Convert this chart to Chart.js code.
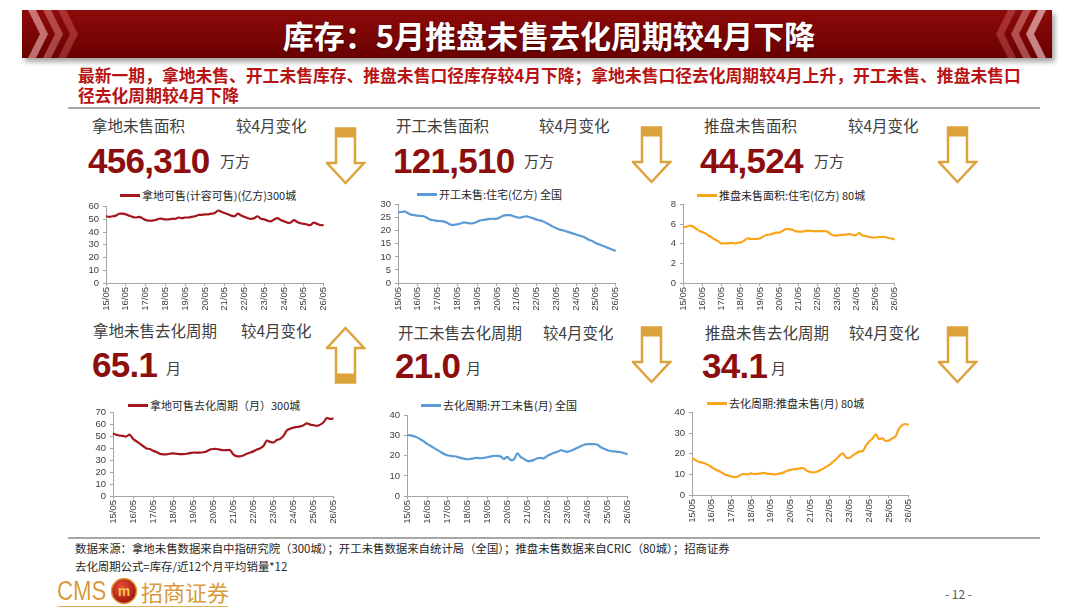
<!DOCTYPE html>
<html>
<head>
<meta charset="utf-8">
<script src="https://cdn.jsdelivr.net/npm/chart.js@4.4.1/dist/chart.umd.min.js"></script>
<style>
body{margin:0;background:#fff;}
#page{position:relative;width:1080px;height:608px;overflow:hidden;font-family:"Noto Sans CJK SC","Noto Sans",sans-serif;}
.t{position:absolute;white-space:nowrap;line-height:1;}
.lbl{font-size:15.5px;color:#404040;}
.num{font-family:"Liberation Sans",Arial,sans-serif;font-weight:bold;color:#8C0E0E;font-size:35px;letter-spacing:-0.7px;}
.unit{font-size:15px;color:#404040;}
.leg{font-size:11px;color:#262626;}
.legline{position:absolute;height:2.5px;}
.box{position:absolute;}
.sub{position:absolute;left:78px;font-size:16.8px;font-weight:bold;color:#B81414;white-space:nowrap;line-height:1;}
.hr{position:absolute;left:68px;width:972px;height:2px;background:#A6A6A6;}
.foot{position:absolute;left:75px;font-size:11.4px;color:#262626;white-space:nowrap;line-height:1;}
</style>
</head>
<body>
<div id="page">
  <svg class="box" style="left:0;top:0" width="1080" height="70">
    <defs>
      <linearGradient id="bg" x1="0" y1="0" x2="0" y2="1">
        <stop offset="0" stop-color="#8E0B0B"/>
        <stop offset="1" stop-color="#6A0000"/>
      </linearGradient>
      <filter id="sh" x="-5%" y="-30%" width="110%" height="160%"><feGaussianBlur stdDeviation="2.5"/></filter>
    </defs>
    <rect x="25" y="14" width="1030" height="48" fill="rgba(0,0,0,0.35)" filter="url(#sh)"/>
    <rect x="22" y="10" width="1030" height="48" fill="url(#bg)"/>
    <polygon points="28,10 36,10 48,34 36,58 28,58 40,34" fill="rgba(255,200,200,0.55)"/>
    <polygon points="43,10 51,10 63,34 51,58 43,58 55,34" fill="rgba(255,170,170,0.4)"/>
    <polygon points="58,10 66,10 78,34 66,58 58,58 70,34" fill="rgba(255,150,150,0.28)"/>
    <polygon points="1046,10 1038,10 1026,34 1038,58 1046,58 1034,34" fill="rgba(255,220,220,0.6)"/>
    <polygon points="1031,10 1023,10 1011,34 1023,58 1031,58 1019,34" fill="rgba(255,180,180,0.42)"/>
    <polygon points="1016,10 1008,10 996,34 1008,58 1016,58 1004,34" fill="rgba(255,150,150,0.28)"/>
  </svg>
  <div class="t" style="left:0;width:1080px;text-align:center;top:19px;font-size:31px;font-weight:bold;color:#fff;text-shadow:1px 1px 2px rgba(0,0,0,0.4);padding-left:18px;box-sizing:border-box;">库存：5月推盘未售去化周期较4月下降</div>

  <div class="sub" style="top:67px;">最新一期，拿地未售、开工未售库存、推盘未售口径库存较4月下降；拿地未售口径去化周期较4月上升，开工未售、推盘未售口</div>
  <div class="sub" style="top:87px;">径去化周期较4月下降</div>
  <div class="hr" style="top:107px;"></div>

  <!-- top row headings -->
  <div class="t lbl" style="left:92px;top:118px;">拿地未售面积</div>
  <div class="t lbl" style="left:236px;top:118px;">较4月变化</div>
  <div class="t num" style="left:88px;top:143px;">456,310</div>
  <div class="t unit" style="left:220px;top:153px;">万方</div>

  <div class="t lbl" style="left:396px;top:118px;">开工未售面积</div>
  <div class="t lbl" style="left:539px;top:118px;">较4月变化</div>
  <div class="t num" style="left:393px;top:143px;">121,510</div>
  <div class="t unit" style="left:524px;top:153px;">万方</div>

  <div class="t lbl" style="left:704px;top:118px;">推盘未售面积</div>
  <div class="t lbl" style="left:848px;top:118px;">较4月变化</div>
  <div class="t num" style="left:700px;top:143px;">44,524</div>
  <div class="t unit" style="left:814px;top:153px;">万方</div>

  <!-- bottom row headings -->
  <div class="t lbl" style="left:93px;top:323px;">拿地未售去化周期</div>
  <div class="t lbl" style="left:241px;top:323px;">较4月变化</div>
  <div class="t num" style="left:92px;top:347px;">65.1</div>
  <div class="t unit" style="left:166px;top:360px;">月</div>

  <div class="t lbl" style="left:398px;top:325px;">开工未售去化周期</div>
  <div class="t lbl" style="left:543px;top:325px;">较4月变化</div>
  <div class="t num" style="left:395px;top:348px;">21.0</div>
  <div class="t unit" style="left:466px;top:360px;">月</div>

  <div class="t lbl" style="left:705px;top:325px;">推盘未售去化周期</div>
  <div class="t lbl" style="left:849px;top:325px;">较4月变化</div>
  <div class="t num" style="left:702px;top:348px;">34.1</div>
  <div class="t unit" style="left:771px;top:360px;">月</div>

  <!-- arrows -->
  <svg class="box" style="left:326px;top:127px" width="40" height="58"><rect x="10" y="1.5" width="19" height="9" fill="#DCA33C"/><polygon points="10,1.5 29,1.5 29,36 38,36 19.5,56 1,36 10,36" fill="none" stroke="#DCA33C" stroke-width="2.5"/></svg>
  <svg class="box" style="left:632px;top:126px" width="40" height="58"><rect x="10" y="1.5" width="19" height="9" fill="#DCA33C"/><polygon points="10,1.5 29,1.5 29,36 38,36 19.5,56 1,36 10,36" fill="none" stroke="#DCA33C" stroke-width="2.5"/></svg>
  <svg class="box" style="left:938px;top:126px" width="40" height="58"><rect x="10" y="1.5" width="19" height="9" fill="#DCA33C"/><polygon points="10,1.5 29,1.5 29,36 38,36 19.5,56 1,36 10,36" fill="none" stroke="#DCA33C" stroke-width="2.5"/></svg>
  <svg class="box" style="left:326px;top:326px" width="40" height="58"><rect x="10" y="47.5" width="19" height="9" fill="#DCA33C"/><polygon points="10,56.5 29,56.5 29,22 38,22 19.5,2 1,22 10,22" fill="none" stroke="#DCA33C" stroke-width="2.5"/></svg>
  <svg class="box" style="left:632px;top:326px" width="40" height="58"><rect x="10" y="1.5" width="19" height="9" fill="#DCA33C"/><polygon points="10,1.5 29,1.5 29,36 38,36 19.5,56 1,36 10,36" fill="none" stroke="#DCA33C" stroke-width="2.5"/></svg>
  <svg class="box" style="left:938px;top:326px" width="40" height="58"><rect x="10" y="1.5" width="19" height="9" fill="#DCA33C"/><polygon points="10,1.5 29,1.5 29,36 38,36 19.5,56 1,36 10,36" fill="none" stroke="#DCA33C" stroke-width="2.5"/></svg>

  <!-- legends -->
  <div class="legline" style="left:120px;top:194px;width:20px;background:#A3161C;"></div>
  <div class="t leg" style="left:142px;top:190px;">拿地可售(计容可售)(亿方)300城</div>
  <div class="legline" style="left:417px;top:193px;width:20px;background:#5B9BD5;"></div>
  <div class="t leg" style="left:439px;top:189px;">开工未售:住宅(亿方) 全国</div>
  <div class="legline" style="left:697px;top:194px;width:20px;background:#F8A51B;"></div>
  <div class="t leg" style="left:719px;top:190px;">推盘未售面积:住宅(亿方) 80城</div>
  <div class="legline" style="left:128px;top:404px;width:20px;background:#A3161C;"></div>
  <div class="t leg" style="left:150px;top:400px;">拿地可售去化周期（月）300城</div>
  <div class="legline" style="left:421px;top:404px;width:20px;background:#5B9BD5;"></div>
  <div class="t leg" style="left:443px;top:400px;">去化周期:开工未售(月) 全国</div>
  <div class="legline" style="left:707px;top:402px;width:20px;background:#F8A51B;"></div>
  <div class="t leg" style="left:729px;top:398px;">去化周期:推盘未售(月) 80城</div>

  <div class="box" id="b1"><canvas id="c1"></canvas></div>
  <div class="box" id="b2"><canvas id="c2"></canvas></div>
  <div class="box" id="b3"><canvas id="c3"></canvas></div>
  <div class="box" id="b4"><canvas id="c4"></canvas></div>
  <div class="box" id="b5"><canvas id="c5"></canvas></div>
  <div class="box" id="b6"><canvas id="c6"></canvas></div>

  <div class="hr" style="top:537px;"></div>
  <div class="foot" style="top:543px;">数据来源：拿地未售数据来自中指研究院（300城）；开工未售数据来自统计局（全国）；推盘未售数据来自CRIC（80城）；招商证券</div>
  <div class="foot" style="top:561px;">去化周期公式=库存/近12个月平均销量*12</div>

  <div class="t" style="left:57px;top:578px;font-family:'Liberation Sans',sans-serif;font-size:27px;color:#D89A3A;transform:scaleX(0.82);transform-origin:0 0;">CMS</div>
  <svg class="box" style="left:110px;top:577px" width="28" height="28"><defs><radialGradient id="em" cx="0.4" cy="0.35" r="0.7"><stop offset="0" stop-color="#E8503A"/><stop offset="1" stop-color="#9A1208"/></radialGradient></defs><circle cx="14" cy="14" r="12.5" fill="url(#em)" stroke="#E0A040" stroke-width="1.5"/><text x="14" y="19" text-anchor="middle" font-size="14" font-weight="bold" fill="#F5C34A" font-family="Liberation Sans">m</text></svg>
  <div class="t" style="left:141px;top:580px;font-size:22px;color:#D89A3A;">招商证券</div>
  <div style="position:absolute;left:58px;top:606px;width:170px;height:1px;background:#E0B060;"></div>
  <div class="t" style="left:945px;top:588px;font-size:12px;color:#595959;">- 12 -</div>
</div>

<script>
// 月度序列（双月取点），2015/05 - 2026/05
const months = [
  '15/05','15/07','15/09','15/11','16/01','16/03',
  '16/05','16/07','16/09','16/11','17/01','17/03',
  '17/05','17/07','17/09','17/11','18/01','18/03',
  '18/05','18/07','18/09','18/11','19/01','19/03',
  '19/05','19/07','19/09','19/11','20/01','20/03',
  '20/05','20/07','20/09','20/11','21/01','21/03',
  '21/05','21/07','21/09','21/11','22/01','22/03',
  '22/05','22/07','22/09','22/11','23/01','23/03',
  '23/05','23/07','23/09','23/11','24/01','24/03',
  '24/05','24/07','24/09','24/11','25/01','25/03',
  '25/05','25/07','25/09','25/11','26/01','26/03',
  '26/05'
];
const tickLabels = ['15/05','16/05','17/05','18/05','19/05','20/05','21/05','22/05','23/05','24/05','25/05','26/05'];

// 拿地可售(计容可售)(亿方)300城
const landStock = [
  52.5, 52.0, 52.5, 53.0, 54.5, 54.5,
  54.0, 53.0, 52.0, 51.5, 52.0, 51.0,
  49.5, 49.0, 49.0, 49.5, 50.5, 50.5,
  50.0, 50.0, 50.5, 50.5, 51.5, 51.0,
  51.5, 51.5, 52.0, 52.5, 53.5, 53.5,
  54.0, 54.0, 54.5, 55.0, 57.0, 56.0,
  55.0, 54.0, 53.0, 52.5, 54.5, 53.0,
  52.0, 51.0, 50.5, 51.0, 52.5, 50.5,
  50.0, 49.0, 48.5, 50.0, 51.0, 49.5,
  48.5, 47.5, 47.5, 49.5, 48.0, 47.0,
  46.5, 46.0, 45.5, 47.5, 46.5, 45.5,
  45.5
];
// 开工未售:住宅(亿方) 全国
const startStock = [
  27.0, 27.2, 27.4, 26.8, 26.2, 26.0,
  25.8, 25.7, 25.5, 24.8, 24.2, 24.0,
  23.8, 23.7, 23.5, 23.0, 22.3, 22.3,
  22.5, 22.8, 23.2, 23.0, 22.8, 23.0,
  23.5, 24.0, 24.2, 24.4, 24.6, 24.6,
  24.6, 25.2, 25.8, 26.0, 26.0, 25.6,
  25.2, 25.0, 25.4, 25.5, 25.2, 24.8,
  24.3, 24.0, 23.6, 23.0, 22.3, 21.6,
  21.0, 20.5, 20.2, 19.8, 19.4, 19.0,
  18.6, 18.2, 17.8, 17.2, 16.5, 16.0,
  15.3, 14.8, 14.3, 13.8, 13.3, 12.8,
  12.2
];
// 推盘未售面积:住宅(亿方) 80城
const launchStock = [
  5.70, 5.75, 5.85, 5.80, 5.55, 5.35,
  5.20, 5.05, 4.85, 4.65, 4.45, 4.25,
  4.05, 4.05, 4.05, 4.10, 4.05, 4.10,
  4.15, 4.30, 4.55, 4.50, 4.50, 4.50,
  4.55, 4.75, 4.90, 4.95, 5.05, 5.15,
  5.15, 5.30, 5.50, 5.50, 5.45, 5.30,
  5.25, 5.25, 5.30, 5.35, 5.30, 5.30,
  5.30, 5.30, 5.30, 5.25, 5.00, 4.85,
  4.85, 4.90, 4.95, 4.95, 5.00, 4.90,
  4.90, 5.10, 4.85, 4.80, 4.70, 4.65,
  4.65, 4.70, 4.70, 4.70, 4.60, 4.55,
  4.45
];
// 拿地可售去化周期（月）300城
const landCycle = [
  52.5, 51.5, 50.8, 50.5, 50.0, 51.5,
  48.0, 46.0, 44.0, 42.0, 40.0, 39.5,
  38.0, 37.0, 35.5, 35.0, 35.0, 35.5,
  35.8, 35.5, 35.2, 35.2, 35.5, 36.0,
  36.5, 36.5, 36.5, 36.8, 37.5, 39.0,
  39.5, 39.5, 39.0, 38.5, 38.5, 38.5,
  35.0, 33.5, 33.3, 34.0, 35.5, 36.5,
  37.5, 39.0, 40.0, 42.0, 46.5, 45.5,
  45.0, 47.0, 48.0, 50.5, 55.0, 56.5,
  57.5, 58.0, 58.5, 59.5, 61.0, 60.0,
  59.5, 59.0, 60.0, 62.0, 65.5, 64.8,
  65.1
];
// 去化周期:开工未售(月) 全国
const startCycle = [
  30.5, 30.2, 29.8, 29.2, 28.2, 27.2,
  26.0, 25.0, 24.0, 23.0, 22.0, 21.0,
  20.3, 20.0, 19.8, 19.5, 19.0, 18.6,
  18.3, 18.5, 18.8, 19.0, 18.8, 19.0,
  19.3, 19.7, 20.0, 20.0, 19.7, 18.5,
  19.5, 18.0, 18.3, 21.2, 19.5, 18.5,
  17.5, 17.5, 18.0, 18.8, 19.0, 18.8,
  20.0, 20.8, 21.5, 22.0, 22.8, 22.4,
  22.0, 22.5, 23.3, 24.0, 24.8, 25.5,
  25.8, 25.8, 25.8, 25.5, 24.3, 23.5,
  22.8, 22.4, 22.2, 22.0, 21.8, 21.3,
  20.8
];
// 去化周期:推盘未售(月) 80城
const launchCycle = [
  18.0, 17.0, 16.2, 15.8, 15.3, 14.5,
  13.5, 12.5, 11.8, 11.0, 10.0, 9.5,
  9.0, 8.7, 9.0, 10.0, 10.2, 10.0,
  10.5, 10.2, 10.3, 10.5, 10.8, 10.3,
  10.2, 10.0, 10.2, 10.5, 11.0, 11.8,
  12.2, 12.5, 12.6, 13.0, 13.0, 11.8,
  11.2, 11.0, 11.3, 12.0, 12.8, 13.8,
  14.8, 16.2, 17.5, 19.2, 20.2, 18.2,
  18.0, 19.2, 20.2, 21.2, 21.3, 24.0,
  26.0, 27.5, 29.5, 27.2, 27.5, 26.3,
  26.5, 27.5, 28.5, 32.0, 33.8, 34.5,
  34.1
];

const axisColor = '#A6A6A6';
const tickFont = { family: 'Liberation Sans', size: 9.5 };

// 绘图区目标位置: [左, 右, 上, 下]
function makeChart(id, rect, values, color, yMax, yStep) {
  const padT = 8, padR = 8, yW = 24, xH = 36;
  const box = document.getElementById('b' + id);
  const left = rect[0] - yW, top = rect[2] - padT;
  box.style.left = left + 'px';
  box.style.top = top + 'px';
  box.style.width = (rect[1] + padR - left) + 'px';
  box.style.height = (rect[3] + xH - top) + 'px';

  return new Chart('c' + id, {
    type: 'line',
    data: {
      labels: months,
      datasets: [{ data: values, borderColor: color, borderWidth: 2.2, pointRadius: 0, tension: 0.35, fill: false }]
    },
    options: {
      responsive: true,
      maintainAspectRatio: false,
      animation: false,
      layout: { padding: { top: padT, right: padR, left: 0, bottom: 0 } },
      plugins: { legend: { display: false }, tooltip: { enabled: false } },
      scales: {
        x: {
          offset: false,
          grid: {
            drawOnChartArea: false, tickLength: 3,
            color: c => tickLabels.includes(months[c.index]) ? axisColor : 'rgba(0,0,0,0)'
          },
          border: { color: axisColor },
          ticks: {
            autoSkip: false, minRotation: 90, maxRotation: 90, padding: 1,
            font: tickFont, color: '#404040',
            callback: (v, i) => tickLabels.includes(months[i]) ? months[i] : ''
          },
          afterFit: s => { s.height = xH; }
        },
        y: {
          min: 0, max: yMax,
          ticks: { stepSize: yStep, autoSkip: false, padding: 4, font: tickFont, color: '#404040' },
          grid: { drawOnChartArea: false, tickLength: 3, color: axisColor },
          border: { color: axisColor },
          afterFit: s => { s.width = yW; }
        }
      }
    }
  });
}

makeChart(1, [106, 328, 205, 283], landStock, '#A3161C', 60, 10);
makeChart(2, [398, 620, 203, 283], startStock, '#5B9BD5', 30, 5);
makeChart(3, [683, 899, 203, 283], launchStock, '#F8A51B', 8, 2);
makeChart(4, [113, 338, 411, 496], landCycle, '#A3161C', 70, 10);
makeChart(5, [407, 632, 414, 496], startCycle, '#5B9BD5', 40, 10);
makeChart(6, [692, 913, 411, 495], launchCycle, '#F8A51B', 40, 10);
</script>
</body>
</html>
